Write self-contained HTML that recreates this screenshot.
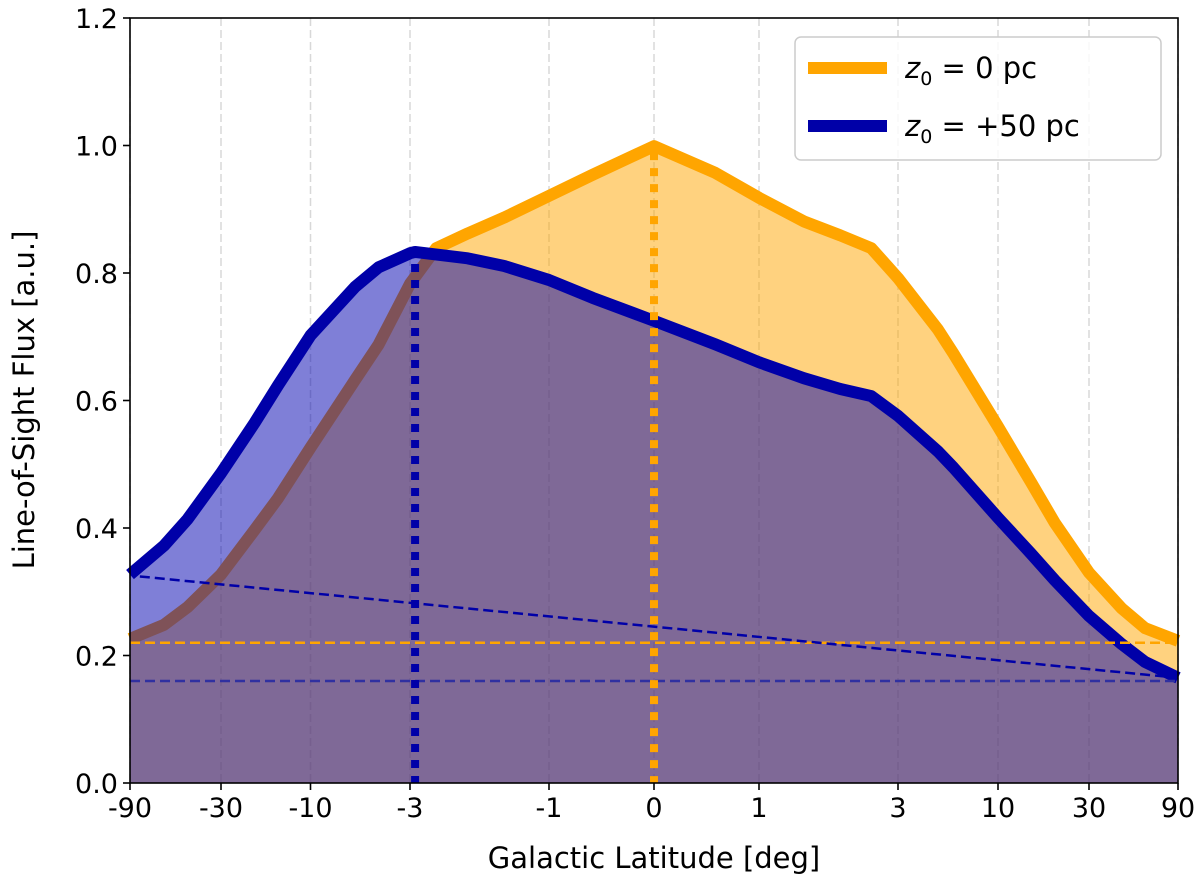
<!DOCTYPE html>
<html><head><meta charset="utf-8"><style>
html,body{margin:0;padding:0;background:#fff;}
svg{display:block;font-family:"DejaVu Sans","Liberation Sans",sans-serif;}
</style></head><body>
<svg id="chart" width="1200" height="883" viewBox="0 0 1200 883"></svg>
<script>
const xTicks=[-90,-30,-10,-3,-1,0,1,3,10,30,90];
const yTicks=[0,0.2,0.4,0.6,0.8,1.0,1.2];
const orangeX=[-90,-60,-45,-30,-20,-15,-10,-6,-4.5,-3,-2.51,-2,-1.5,-1,-0.5,0,0.5,1,1.5,2,2.5,3,5,6,10,15,20,30,45,60,90];
const orangeY=[0.226,0.248,0.276,0.327,0.397,0.447,0.526,0.632,0.688,0.783,0.839,0.862,0.887,0.921,0.954,0.999,0.957,0.918,0.881,0.859,0.839,0.792,0.711,0.674,0.559,0.472,0.408,0.330,0.274,0.243,0.223];
const blueX=[-90,-60,-45,-30,-20,-15,-10,-6,-4.5,-3,-2.9,-2,-1.5,-1,-0.5,0,0.5,1,1.5,2,2.5,3,5,6,10,15,20,30,45,60,90];
const blueY=[0.327,0.372,0.414,0.486,0.565,0.624,0.702,0.778,0.809,0.831,0.833,0.823,0.811,0.789,0.761,0.725,0.688,0.660,0.635,0.618,0.607,0.576,0.520,0.495,0.416,0.360,0.318,0.262,0.218,0.190,0.165];
const orangeBase=0.22, blueBase=0.16;
const blueSlopeStart=[-80,0.324], blueSlopeEnd=[90,0.165];
const orangePeakX=0, bluePeakX=-2.9;

const X0=130,X1=1178,Y0=783,Y1=18;
const tickPx=[130,221,310.5,410,549,654,759,898,998,1089,1178];
function tf(v){return Math.sign(v)*Math.log(1+Math.abs(v));}
function sx(v){
  for(let i=0;i<xTicks.length-1;i++){
    if(v<=xTicks[i+1]||i==xTicks.length-2){
      const a=tf(xTicks[i]),b=tf(xTicks[i+1]),f=(tf(v)-a)/(b-a);
      return tickPx[i]+f*(tickPx[i+1]-tickPx[i]);
    }
  }
}
function sy(v){return Y0-(v/1.2)*(Y0-Y1);}
function interp(xs,ys,x){for(let i=0;i<xs.length-1;i++){if(x<=xs[i+1]){const f=(x-xs[i])/(xs[i+1]-xs[i]);return ys[i]+f*(ys[i+1]-ys[i]);}}return ys[ys.length-1];}
const svg=document.getElementById('chart');
const NS='http://www.w3.org/2000/svg';
function mk(tag,attrs,parent){const e=document.createElementNS(NS,tag);for(const k in attrs)e.setAttribute(k,attrs[k]);(parent||svg).appendChild(e);return e;}
function linePath(xs,ys){return xs.map((x,i)=>(i?'L':'M')+sx(x).toFixed(2)+','+sy(ys[i]).toFixed(2)).join(' ');}
xTicks.forEach(t=>{const g=mk('line',{x1:sx(t),x2:sx(t),y1:Y1,y2:Y0,stroke:'#d8d8d8','stroke-width':1.5,'stroke-dasharray':'8,4'});
});
const oLine=linePath(orangeX,orangeY), bLine=linePath(blueX,blueY);
const close=(xs)=>' L'+sx(xs[xs.length-1])+','+sy(0)+' L'+sx(xs[0])+','+sy(0)+' Z';
let e;
e=mk('path',{d:oLine+close(orangeX),fill:'#ffa500','fill-opacity':0.5,stroke:'none'});

e=mk('path',{d:oLine,fill:'none',stroke:'#ffa500','stroke-width':12,'stroke-linejoin':'round'});

e=mk('path',{d:bLine+close(blueX),fill:'#0000b0','fill-opacity':0.5,stroke:'none'});

e=mk('path',{d:bLine,fill:'none',stroke:'#0000a8','stroke-width':12,'stroke-linejoin':'round'});

e=mk('line',{x1:X0,x2:X1,y1:sy(orangeBase),y2:sy(orangeBase),stroke:'#ffa500','stroke-width':2.5,'stroke-dasharray':'10,5'});

e=mk('line',{x1:X0,x2:X1,y1:sy(blueBase),y2:sy(blueBase),stroke:'#3030a0','stroke-width':2.5,'stroke-dasharray':'10,5'});

e=mk('line',{x1:sx(blueSlopeStart[0]),x2:sx(blueSlopeEnd[0]),y1:sy(blueSlopeStart[1]),y2:sy(blueSlopeEnd[1]),stroke:'#0000a8','stroke-width':2.5,'stroke-dasharray':'10,5'});

e=mk('line',{x1:sx(orangePeakX),x2:sx(orangePeakX),y1:sy(interp(orangeX,orangeY,orangePeakX))+6,y2:Y0,stroke:'#ffa500','stroke-width':8,'stroke-dasharray':'8,8'});

e=mk('line',{x1:sx(bluePeakX),x2:sx(bluePeakX),y1:sy(interp(blueX,blueY,bluePeakX))+12,y2:Y0,stroke:'#0000a8','stroke-width':8,'stroke-dasharray':'8,8'});

e=mk('rect',{x:X0,y:Y1,width:X1-X0,height:Y0-Y1,fill:'none',stroke:'#000','stroke-width':1.6});

xTicks.forEach(t=>{
  mk('line',{x1:sx(t),x2:sx(t),y1:Y0,y2:Y0+7,stroke:'#000','stroke-width':1.6});
  const tx=mk('text',{x:sx(t),y:Y0+34,'text-anchor':'middle','font-size':27});tx.textContent=t;
  
});
yTicks.forEach(t=>{
  mk('line',{x1:X0-7,x2:X0,y1:sy(t),y2:sy(t),stroke:'#000','stroke-width':1.6});
  const tx=mk('text',{x:X0-12,y:sy(t)+10,'text-anchor':'end','font-size':27});tx.textContent=t.toFixed(1);
  
});
e=mk('text',{x:(X0+X1)/2,y:868,'text-anchor':'middle','font-size':29});e.textContent='Galactic Latitude [deg]';

e=mk('text',{x:0,y:0,'text-anchor':'middle','font-size':29,transform:'translate(34,400) rotate(-90)'});e.textContent='Line-of-Sight Flux [a.u.]';

const lg=mk('g',{});
mk('rect',{x:795,y:37,width:366,height:123,rx:6,fill:'#fff','fill-opacity':0.85,stroke:'#ccc','stroke-width':1.5},lg);
[['#ffa500','0 pc',68],['#0000a8','+50 pc',126]].forEach(([c,lab,y],i)=>{
  const g=mk('g',{},lg);
  
  
  mk('line',{x1:808,x2:887,y1:y,y2:y,stroke:c,'stroke-width':12},g);
  const t=mk('text',{x:905,y:y+10,'font-size':29},g);
  t.innerHTML='<tspan font-style="italic">z</tspan><tspan font-size="19" dy="7">0</tspan><tspan dy="-7"> = '+lab+'</tspan>';
});
</script>
</body></html>
